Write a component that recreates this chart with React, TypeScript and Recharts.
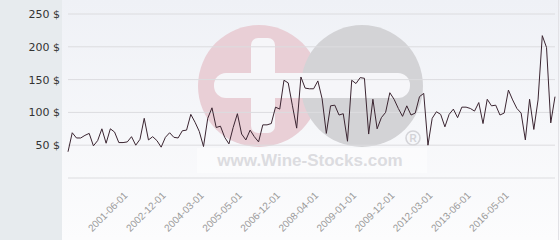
import React from 'react';
import { LineChart, Line, XAxis, YAxis, CartesianGrid } from 'recharts';

const prices: number[] = [
  40, 69, 61, 61, 65, 68, 49, 57, 75, 53,
  75, 70, 54, 54, 55, 63, 50, 59, 91, 58,
  63, 57, 47, 62, 69, 62, 61, 72, 73, 97,
  85, 71, 48, 91, 107, 77, 79, 62, 52, 77,
  98, 67, 58, 73, 63, 55, 81, 81, 83, 108,
  105, 149, 145, 110, 76, 154, 137, 136, 136, 148,
  121, 68, 110, 111, 96, 98, 56, 149, 144, 153,
  152, 67, 120, 75, 92, 100, 130, 120, 106, 94,
  110, 96, 99, 124, 129, 50, 91, 101, 97, 78,
  97, 105, 92, 108, 108, 106, 102, 115, 83, 120,
  110, 111, 96, 99, 134, 119, 106, 99, 58, 120,
  74, 119, 217, 199, 84, 124,
];

const tickIndices: number[] = [14, 23, 32, 41, 50, 59, 68, 77, 86, 95, 104];
const tickLabels: string[] = [
  '2001-06-01', '2002-12-01', '2004-03-01', '2005-05-01', '2006-12-01',
  '2008-04-01', '2009-01-01', '2009-12-01', '2012-03-01', '2013-06-01', '2016-05-01',
];
const yTicks: number[] = [0, 50, 100, 150, 200, 250];

const data = prices.map((price, idx) => ({ idx, price }));

const W = 560;
const H = 240;

function Watermark() {
  return (
    <svg width={W} height={H} style={{ position: 'absolute', left: 0, top: 0 }}>
      <defs>
        <linearGradient id="bg" x1="0" y1="0" x2="0" y2="1">
          <stop offset="0%" stopColor="#eff1f6" />
          <stop offset="100%" stopColor="#fcfcfd" />
        </linearGradient>
      </defs>
      <rect x={62} y={0} width={498} height={H} fill="url(#bg)" />
      <rect x={0} y={0} width={62} height={H} fill="#e7ebee" />
      <rect x={558} y={0} width={1} height={H} fill="#e2e2e6" />
      <rect x={197} y={148} width={230} height={25} fill="#ffffff" opacity={0.45} />
      <circle cx={259} cy={86} r={61} fill="#e9cfd6" />
      <circle cx={362} cy={86} r={61} fill="#d3d3d6" />
      <rect x={251} y={38} width={24} height={95} rx={7} fill="#f6f6f9" />
      <rect x={214} y={73} width={196} height={25} rx={12} fill="#f6f6f9" />
      <circle cx={413} cy={138} r={7} fill="none" stroke="#d4d4d8" strokeWidth={1.6} />
      <text x={413} y={142} textAnchor="middle" fontFamily="Liberation Sans" fontWeight="bold" fontSize={10} fill="#d4d4d8">R</text>
      <text x={310} y={166} textAnchor="middle" fontFamily="Liberation Sans" fontWeight="bold" fontSize={17} fill="#dcdce0">www.Wine-Stocks.com</text>
    </svg>
  );
}

function DateTick(props: any) {
  const { x, y, payload } = props;
  const label = tickLabels[tickIndices.indexOf(payload.value)] ?? '';
  const tx = x - 4;
  const ty = y + 5;
  return (
    <text
      x={tx}
      y={ty}
      transform={`rotate(-45, ${tx}, ${ty})`}
      textAnchor="end"
      fontSize={10}
      fill="#9a9a9a"
      fontFamily="Liberation Sans"
    >
      <tspan x={tx} dy="0.71em">{label}</tspan>
    </text>
  );
}

export default function App() {
  return (
    <div style={{ position: 'absolute', left: 0, top: 0, width: W, height: H, overflow: 'hidden' }}>
      <Watermark />
      <div style={{ position: 'absolute', left: 0, top: 0 }}>
        <LineChart width={W} height={H} data={data} margin={{ top: 14, right: 5, bottom: 0, left: 0 }}>
          <CartesianGrid stroke="#dcdcdf" vertical={false} />
          <XAxis
            dataKey="idx"
            type="number"
            domain={[0, prices.length - 1]}
            ticks={tickIndices}
            interval={0}
            axisLine={false}
            tickLine={false}
            height={62}
            tick={<DateTick />}
          />
          <YAxis
            domain={[0, 250]}
            ticks={yTicks}
            interval={0}
            width={68}
            axisLine={false}
            tickLine={false}
            tickFormatter={(v: number) => (v === 0 ? '' : `${v} $`)}
            tick={{ fontSize: 11, fill: '#333333', fontFamily: 'DejaVu Sans' }}
          />
          <Line
            type="linear"
            dataKey="price"
            stroke="#3b2531"
            strokeWidth={1}
            dot={false}
            isAnimationActive={false}
          />
        </LineChart>
      </div>
    </div>
  );
}
